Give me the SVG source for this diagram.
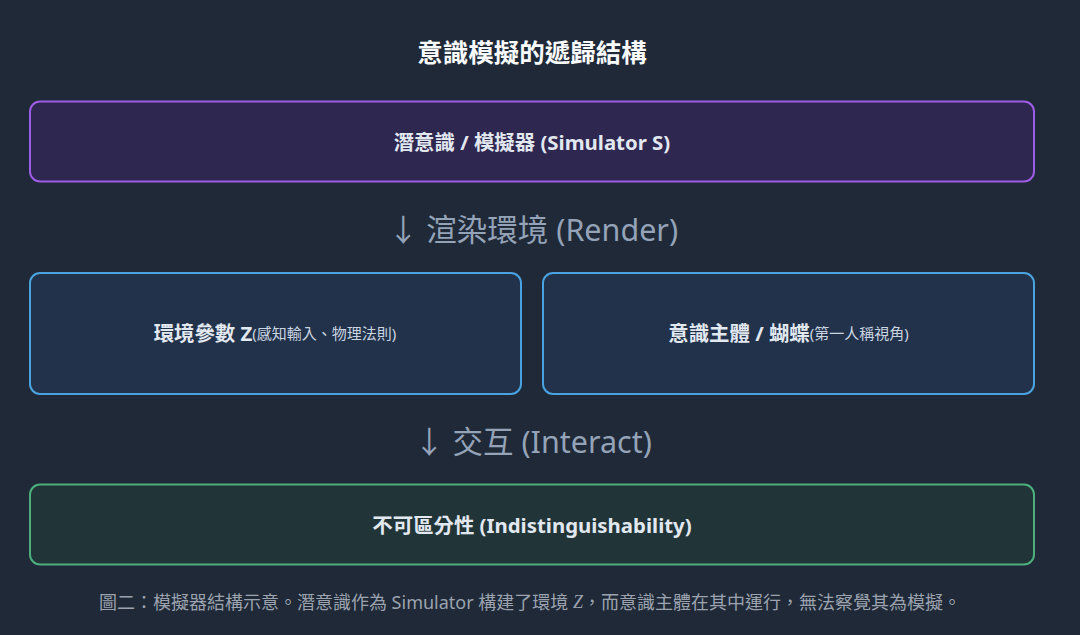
<svg xmlns="http://www.w3.org/2000/svg" width="1080" height="635" viewBox="0 0 1080 635">
<style>
.title{font-family:"Liberation Serif","Noto Sans CJK TC",serif;font-weight:bold;font-size:25.5px;fill:#f8fafc;text-anchor:middle;dominant-baseline:central}
.nt{font-family:"Noto Sans","Noto Sans CJK TC",sans-serif;font-weight:bold;font-size:20.4px;fill:#e2e8f0;text-anchor:middle;dominant-baseline:central}
.sub{font-weight:normal;font-size:15px;fill:#cbd5e1}
.lbl{font-family:"Noto Sans","Noto Sans CJK TC",sans-serif;font-size:30.5px;fill:#94a3b8;text-anchor:middle;dominant-baseline:central}
.cap{font-family:"Noto Sans","Noto Sans CJK TC",sans-serif;font-size:18px;fill:#9ca3af;text-anchor:middle;dominant-baseline:central}
.purple{fill:#2e2750;stroke:#9d5ce5;stroke-width:2}
.blue{fill:#21324a;stroke:#4aa3e0;stroke-width:2}
.green{fill:#213438;stroke:#4cae7c;stroke-width:2}
</style>
<rect width="1080" height="635" fill="#1f2937"/>
<text class="title" x="532" y="53">意識模擬的遞歸結構</text>
<g id="simulator">
<rect class="purple" x="30" y="101.5" width="1004" height="80" rx="10"/>
<text class="nt" x="532" y="142">潛意識 / 模擬器 (Simulator S)</text>
</g>
<g id="connectors">
<text class="lbl" x="533" y="229">↓ 渲染環境 (Render)</text>
<text class="lbl" x="533" y="441">↓ 交互 (Interact)</text>
</g>
<g id="env">
<rect class="blue" x="30" y="273" width="491" height="121" rx="10"/>
<text class="nt" x="275" y="333">環境參數 Z<tspan class="sub">(感知輸入、物理法則)</tspan></text>
</g>
<g id="subject">
<rect class="blue" x="543" y="273" width="491" height="121" rx="10"/>
<text class="nt" x="788.5" y="333">意識主體 / 蝴蝶<tspan class="sub">(第一人稱視角)</tspan></text>
</g>
<g id="indist">
<rect class="green" x="30" y="484.5" width="1004" height="80" rx="10"/>
<text class="nt" x="532" y="525">不可區分性 (Indistinguishability)</text>
</g>
<text class="cap" x="530" y="602">圖二：模擬器結構示意。潛意識作為 Simulator 構建了環境 <tspan font-family="Liberation Serif" font-style="italic">Z</tspan>，而意識主體在其中運行，無法察覺其為模擬。</text>
</svg>
